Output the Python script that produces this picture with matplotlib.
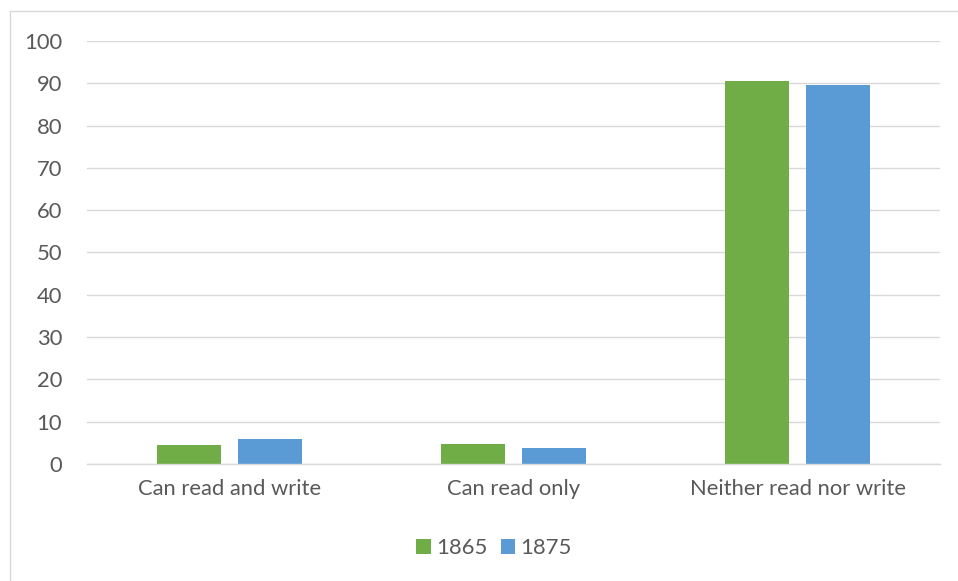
import matplotlib
matplotlib.use("Agg")
import matplotlib.pyplot as plt
from matplotlib.patches import Rectangle
import numpy as np

categories = ["Can read and write", "Can read only", "Neither read nor write"]
series_names = ["1865", "1875"]
values_1865 = [4.5, 4.7, 90.5]
values_1875 = [6.0, 3.9, 89.7]
y_ticks = [0, 10, 20, 30, 40, 50, 60, 70, 80, 90, 100]

colors = ["#70AD47", "#5B9BD5"]
text_color = "#595959"
grid_color = "#D9D9D9"

plt.rcParams["font.family"] = ["Lato", "DejaVu Sans"]

fig = plt.figure(figsize=(9.58, 5.81), dpi=100)
W, H = 958, 581
ax = fig.add_axes([87 / W, 1 - 464 / H, (940 - 87) / W, (464 - 41) / H])

x = np.arange(len(categories))
bw = 0.225
off = 0.142
ax.bar(x - off, values_1865, width=bw, color=colors[0], label=series_names[0], zorder=3)
ax.bar(x + off, values_1875, width=bw, color=colors[1], label=series_names[1], zorder=3)

ax.set_xlim(-0.5, len(categories) - 0.5)
ax.set_ylim(0, 100)
ax.set_yticks(y_ticks)
ax.set_xticks(x)
ax.set_xticklabels(categories)
ax.yaxis.grid(True, color=grid_color, linewidth=1.0, zorder=0)
for s in ["top", "right", "left"]:
    ax.spines[s].set_visible(False)
ax.spines["bottom"].set_color(grid_color)
ax.spines["bottom"].set_linewidth(1.0)
ax.spines["bottom"].set_zorder(4)
ax.tick_params(axis="both", length=0, labelsize=15.8, colors=text_color)
ax.tick_params(axis="y", pad=18)
ax.tick_params(axis="x", pad=11)

leg = fig.legend(loc="center", bbox_to_anchor=(494 / W, 1 - 548 / H), ncol=2,
                 frameon=False, fontsize=15.8, handlelength=0.65, handleheight=0.65,
                 handletextpad=0.25, columnspacing=0.6, labelcolor=text_color)

# chart frame: only its top and left edges fall inside the canvas
fig.patches.append(Rectangle((10 / W, -10 / H), (980 - 10) / W, (570 + 10) / H,
                             transform=fig.transFigure, fill=False,
                             edgecolor=grid_color, linewidth=1.0))

fig.savefig("out.png", dpi=100, facecolor="white")
